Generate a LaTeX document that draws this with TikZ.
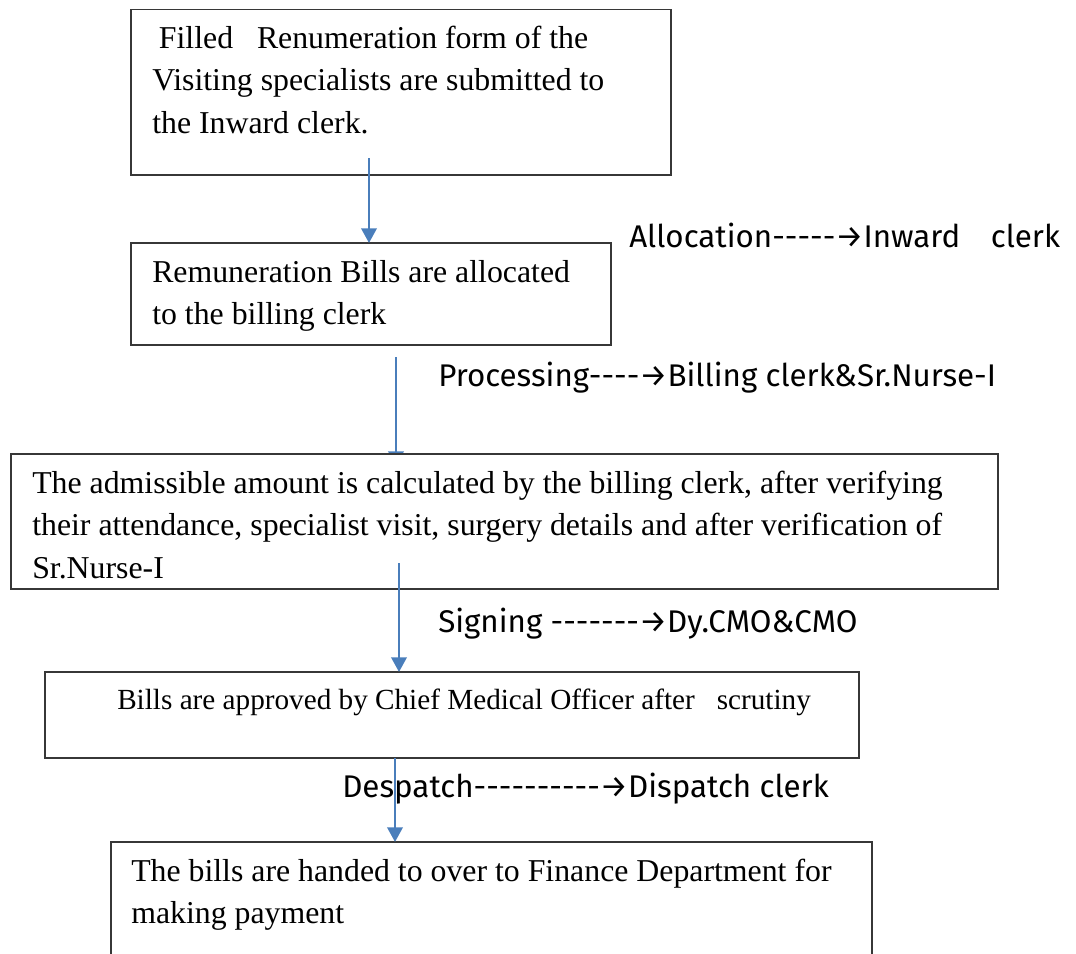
\documentclass[tikz,border=0pt]{standalone}
\usepackage{fontspec}
\setmainfont{Liberation Serif}
\newfontfamily\lblfont{Fira Sans}
\usetikzlibrary{arrows.meta,backgrounds}
\definecolor{flowblue}{RGB}{74,126,187}
\definecolor{edgegray}{RGB}{55,55,55}
% a single hyphen that never joins its neighbours into a dash ligature
\newcommand\hy{-\kern0pt\relax}
\begin{document}
\begin{tikzpicture}[x=0.75pt,y=-0.75pt,
  box/.style={draw=edgegray, line width=0.9pt, fill=white, anchor=north west,
    inner sep=0pt, outer sep=0pt},
  boxtext/.style={anchor=base west, inner sep=0pt,
    font=\fontsize{23.85pt}{31.9pt}\selectfont},
  smalltext/.style={boxtext, font=\fontsize{21.9pt}{29pt}\selectfont},
  lbl/.style={anchor=base west, inner sep=0pt,
    font=\lblfont\fontsize{23.5pt}{30pt}\selectfont},
  flow/.style={draw=flowblue, line width=1.9pt,
    -{Triangle[length=11pt,width=11.5pt]}}]
\useasboundingbox (0,0) rectangle (1076,954);
\clip (0,0) rectangle (1076,954);

% process boxes
\node[box, minimum width=405pt,   minimum height=124.1pt] (b1) at (131,9.5) {};
\node[box, minimum width=360pt,   minimum height=76.5pt]  (b2) at (131,243) {};
\node[box, minimum width=740.25pt,minimum height=101.25pt](b3) at (11,454) {};
\node[box, minimum width=610.5pt, minimum height=64.5pt]  (b4) at (45,672) {};
\node[box, minimum width=570.75pt,minimum height=105pt]   (b5) at (111,842) {};

% box texts
\node[boxtext] (t1) at ([shift={(21,38.5)}]b1.north west)
  {\parbox[t]{760pt}{\hspace*{5pt}Filled\ \ \ Renumeration form of the\\
   Visiting specialists are submitted to\\the Inward clerk.}};
\node[boxtext] (t2) at ([shift={(21,39)}]b2.north west)
  {\parbox[t]{760pt}{Remuneration Bills are allocated\\to the billing clerk}};
\node[boxtext] (t3) at ([shift={(21,39)}]b3.north west)
  {\parbox[t]{760pt}{The admissible amount is calculated by the billing clerk, after verifying\\
   their attendance, specialist visit, surgery details and after verification of\\Sr.Nurse-I}};
\node[smalltext] (t4) at ([shift={(72,37)}]b4.north west)
  {Bills are approved by Chief Medical Officer after\ \ \ scrutiny};
\node[boxtext] (t5) at ([shift={(20,39)}]b5.north west)
  {\parbox[t]{760pt}{The bills are handed to over to Finance Department for\\making payment}};

% stage labels
\node[lbl] (l1) at (629,247) {Allocation\hy\hy\hy\hy\hy→Inward\hspace{23pt}clerk};
\node[lbl] (l2) at (438,386) {Processing\hy\hy\hy\hy→Billing clerk\&Sr.Nurse-I};
\node[lbl] (l3) at (438,632) {Signing \hy\hy\hy\hy\hy\hy\hy→Dy.CMO\&CMO};
\node[lbl] (l4) at (342,797) {Despatch\hy\hy\hy\hy\hy\hy\hy\hy\hy\hy→Dispatch clerk};

% flow arrows
\coordinate (s1) at (369,158);
\coordinate (s2) at (396,357);
\coordinate (s3) at (399,563);
\coordinate (s4) at (395,0);
\draw[flow] (s1) -- (s1 |- b2.north);
\begin{scope}[on background layer]
  \draw[flow, shorten >=-9pt] (s2) -- (s2 |- b3.north);
\end{scope}
\draw[flow] (s3) -- (s3 |- b4.north);
\draw[flow] (s4 |- b4.south) -- (s4 |- b5.north);
\end{tikzpicture}
\end{document}
